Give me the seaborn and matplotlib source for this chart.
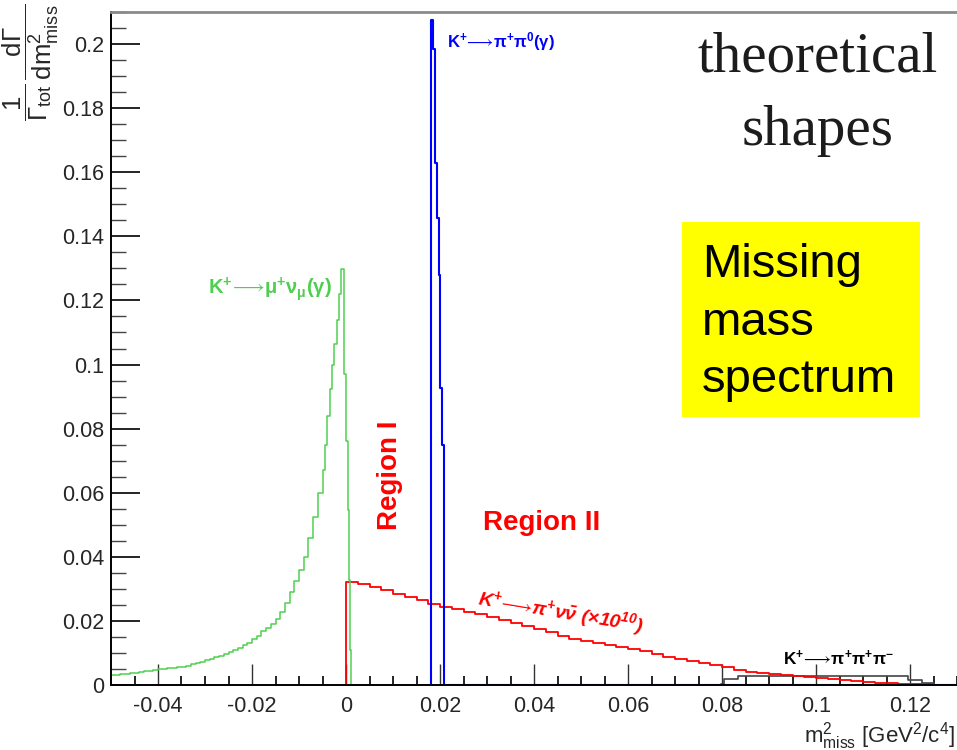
import numpy as np
import pandas as pd
import matplotlib
matplotlib.use("Agg")
import matplotlib.pyplot as plt
import seaborn as sns
from matplotlib.ticker import MultipleLocator, FuncFormatter
from matplotlib.patches import Rectangle

# ---- histogram contents: bin edges (GeV^2/c^4) and normalised bin heights ----

# K+ -> mu+ nu_mu (gamma): 0.001 wide bins up to -0.005, finer near the peak
mu_tail_heights = [0.0030, 0.0031, 0.0033, 0.0035, 0.0037, 0.0039, 0.0041, 0.0043,
                   0.0045, 0.0047, 0.0049, 0.0050, 0.0052, 0.0053, 0.0055, 0.0057,
                   0.0060, 0.0064, 0.0068, 0.0073, 0.0078, 0.0082, 0.0087, 0.0092,
                   0.0097, 0.0103, 0.0109, 0.0116, 0.0124, 0.0132, 0.0142, 0.0153,
                   0.0167, 0.0179, 0.0191, 0.0207, 0.0229, 0.0256, 0.0289, 0.0324,
                   0.0360, 0.0400, 0.0460, 0.0525, 0.0600]
mu_peak_edges = [-0.005, -0.0045, -0.004, -0.0035, -0.003, -0.0025, -0.002, -0.0015,
                 -0.001, -0.0004, 0.0, 0.0004, 0.0007, 0.0009, 0.0011, 0.0181]
mu_peak_heights = [0.0670, 0.0750, 0.0840, 0.0925, 0.1000, 0.1065, 0.1140, 0.1220,
                   0.1297, 0.0970, 0.0760, 0.0547, 0.0328, 0.0110, 0.0]
mu_edges = ([float(v) for v in np.round(-0.05 + 0.001 * np.arange(len(mu_tail_heights)), 4)]
            + mu_peak_edges)
mu_heights = mu_tail_heights + mu_peak_heights

# K+ -> pi+ pi0 (gamma)
pp0_edges = [0.0178, 0.0181, 0.0185, 0.0190, 0.0193, 0.0197, 0.0201, 0.0205, 0.0208, 0.13]
pp0_heights = [0.0, 0.2075, 0.1984, 0.1630, 0.1456, 0.1280, 0.0928, 0.0750, 0.0]

# K+ -> pi+ nu nubar (x 1e10), 0.0025 wide bins from 0 to 0.125
nunu_heights = [0.0322, 0.0314, 0.0305, 0.0296, 0.0285, 0.0274, 0.0264, 0.0254,
                0.0243, 0.0236, 0.0229, 0.0222, 0.0212, 0.0203, 0.0193, 0.0183,
                0.0174, 0.0164, 0.0154, 0.0145, 0.0136, 0.0130, 0.0124, 0.0118,
                0.0112, 0.0105, 0.0097, 0.0088, 0.0080, 0.0074, 0.0068, 0.0063,
                0.0055, 0.0046, 0.0040, 0.0037, 0.0034, 0.0031, 0.0028, 0.0024,
                0.0021, 0.0018, 0.0016, 0.0012, 0.0009, 0.0007, 0.0005, 0.0004,
                0.0003, 0.0002]
nunu_edges = [float(v) for v in np.round(np.arange(len(nunu_heights) + 1) * 0.0025, 4)]
nunu_edges = [-0.0003] + nunu_edges + [0.13]
nunu_heights = [0.0] + nunu_heights + [0.0]

# K+ -> pi+ pi+ pi-
ppp_edges = [0.0790, 0.0797, 0.0805, 0.0835, 0.0900, 0.1000, 0.1100, 0.1195,
             0.1225, 0.1250, 0.1300]
ppp_heights = [0.0, 0.0004, 0.0018, 0.0027, 0.0028, 0.0028, 0.0027, 0.0015,
               0.0007, 0.0]

x_ticks = [-0.04, -0.02, 0, 0.02, 0.04, 0.06, 0.08, 0.1, 0.12]
y_ticks = [0, 0.02, 0.04, 0.06, 0.08, 0.1, 0.12, 0.14, 0.16, 0.18, 0.2]

# ---- style ----
sns.set_style("white")
plt.rcParams["font.family"] = ["Liberation Sans", "DejaVu Sans"]
plt.rcParams["mathtext.fontset"] = "custom"
plt.rcParams["mathtext.rm"] = "Liberation Sans"
plt.rcParams["mathtext.it"] = "Liberation Sans:italic"
plt.rcParams["mathtext.bf"] = "Liberation Sans:bold"
plt.rcParams["mathtext.bfit"] = "Liberation Sans:italic:bold"

GREEN = "#4fcf4f"
BLUE = "#0000ff"
RED = "#ff0000"
BLACK = "#444444"

fig = plt.figure(figsize=(9.57, 7.5), dpi=100)
ax = fig.add_axes([111 / 957, 65 / 750, 846 / 957, 673 / 750])


def draw_hist(edges, heights, color, lw):
    e = np.asarray(edges, dtype=float)
    df = pd.DataFrame({"m2": 0.5 * (e[:-1] + e[1:]), "w": list(heights)})
    sns.histplot(data=df, x="m2", weights="w", bins=list(edges), element="step",
                 fill=False, color=color, linewidth=lw, ax=ax)


draw_hist(ppp_edges, ppp_heights, BLACK, 1.2)
draw_hist(nunu_edges, nunu_heights, RED, 1.3)
draw_hist(mu_edges, mu_heights, GREEN, 1.1)
draw_hist(pp0_edges, pp0_heights, BLUE, 1.5)

ax.set_xlim(-0.05, 0.13)
ax.set_ylim(0, 0.21)
ax.set_xlabel("")
ax.set_ylabel("")


def fmt(v, _pos):
    v = round(v, 4)
    if v == 0:
        return "0"
    return f"{v:g}"


ax.set_xticks(x_ticks)
ax.set_yticks(y_ticks)
ax.xaxis.set_minor_locator(MultipleLocator(0.005))
ax.yaxis.set_minor_locator(MultipleLocator(0.005))
ax.xaxis.set_major_formatter(FuncFormatter(fmt))
ax.yaxis.set_major_formatter(FuncFormatter(fmt))
ax.tick_params(which="both", bottom=True, left=True, top=False, right=False)
ax.tick_params(axis="x", which="major", direction="in", length=15, width=1,
               color="#333333", labelsize=15.5, pad=8)
ax.tick_params(axis="x", which="minor", direction="in", length=6.5, width=1.2,
               color="black")
ax.tick_params(axis="y", which="major", direction="in", length=21, width=1.2,
               color="black", labelsize=15.5, pad=5)
ax.tick_params(axis="y", which="minor", direction="in", length=11, width=1,
               color="#444444")

for side in ("left", "bottom"):
    ax.spines[side].set_color("black")
    ax.spines[side].set_linewidth(1.4)
ax.spines["top"].set_color("#8a8a8a")
ax.spines["top"].set_linewidth(2)
ax.spines["right"].set_visible(False)

# ---- curve labels ----
ARROW = r"\!\longrightarrow\!"
ax.text(-0.0294, 0.1234,
        r"$\mathbf{K^{+}}" + ARROW + r"\mathbf{\mu^{+}\nu_{\mu}(\gamma)}$",
        color=GREEN, fontsize=14.5, ha="left", va="center")
ax.text(0.0214, 0.2009,
        r"$\mathbf{K^{+}}" + ARROW + r"\mathbf{\pi^{+}\pi^{0}(\gamma)}$",
        color=BLUE, fontsize=12, ha="left", va="center")
ax.text(0.0929, 0.0084,
        r"$\mathbf{K^{+}}" + ARROW + r"\mathbf{\pi^{+}\pi^{+}\pi^{-}}$",
        color="black", fontsize=12.3, ha="left", va="center")
ax.text(0.0457, 0.0228,
        r"$\mathbfit{K^{+}}" + ARROW + r"\mathbfit{\pi^{+}\nu\bar{\nu}}$ (×10$^{\mathbfit{10}}$)",
        color=RED, fontsize=14, style="italic", weight="bold",
        rotation=-9.5, ha="center", va="center")
ax.text(0.0093, 0.0656, "Region I", color=RED, fontsize=20, weight="bold",
        rotation=90, ha="center", va="center")
ax.text(0.0417, 0.0505, "Region II", color=RED, fontsize=20, weight="bold",
        ha="center", va="center")

# ---- axis titles ----
fig.text(955 / 957, 8 / 750,
         r"$\mathrm{m}^{2}_{\mathrm{miss}}$ [GeV$^{2}$/c$^{4}$]",
         fontsize=16, ha="right", va="baseline")
fig.text(31 / 957, 0.996,
         r"$\dfrac{1}{\Gamma_{\mathrm{tot}}}\,\dfrac{\mathrm{d}\Gamma}{\mathrm{dm}^{2}_{\mathrm{miss}}}$",
         fontsize=18.5, rotation=90, ha="center", va="top")

# ---- title block and highlighted caption ----
fig.text(818 / 957, 1 - 72 / 750, "theoretical", family="Liberation Serif",
         fontsize=41, color="#1c1c1c", ha="center", va="baseline")
fig.text(818 / 957, 1 - 145 / 750, "shapes", family="Liberation Serif",
         fontsize=41, color="#1c1c1c", ha="center", va="baseline")

fig.add_artist(Rectangle((682 / 957, 1 - 417 / 750), 238 / 957, 195 / 750,
                         transform=fig.transFigure, facecolor="#ffff00",
                         edgecolor="none", zorder=3))
for line, base in (("Missing", 277), ("mass", 335), ("spectrum", 392)):
    fig.text(702 / 957, 1 - base / 750, line, fontsize=34, color="black",
             ha="left", va="baseline", zorder=4)

fig.savefig("out.png", dpi=100)
